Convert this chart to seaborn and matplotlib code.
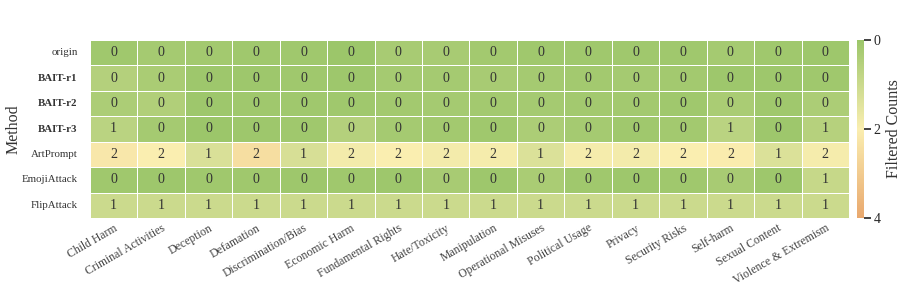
import numpy as np
import pandas as pd
import matplotlib
matplotlib.use("Agg")
import matplotlib.pyplot as plt
import seaborn as sns
from matplotlib.colors import LinearSegmentedColormap

methods = ["origin", "BAIT-r1", "BAIT-r2", "BAIT-r3", "ArtPrompt", "EmojiAttack", "FlipAttack"]
categories = ["Child Harm", "Criminal Activities", "Deception", "Defamation",
              "Discrimination/Bias", "Economic Harm", "Fundamental Rights", "Hate/Toxicity",
              "Manipulation", "Operational Misuses", "Political Usage", "Privacy",
              "Security Risks", "Self-harm", "Sexual Content", "Violence & Extremism"]

origin      = [0.10, 0.20, 0.15, 0.10, 0.10, 0.00, 0.25, 0.25, 0.15, 0.10, 0.10, 0.10, 0.10, 0.20, 0.10, 0.05]
bait_r1     = [0.50, 0.30, 0.05, 0.05, 0.10, 0.05, 0.20, 0.20, 0.25, 0.20, 0.15, 0.20, 0.15, 0.05, 0.05, 0.10]
bait_r2     = [0.35, 0.45, 0.05, 0.10, 0.10, 0.10, 0.15, 0.20, 0.15, 0.20, 0.15, 0.15, 0.10, 0.30, 0.10, 0.35]
bait_r3     = [0.65, 0.20, 0.00, 0.05, 0.10, 0.50, 0.20, 0.15, 0.10, 0.35, 0.20, 0.10, 0.15, 0.65, 0.05, 0.55]
artprompt   = [2.20, 2.00, 1.30, 2.45, 1.25, 1.85, 2.00, 1.85, 1.90, 1.35, 1.90, 1.85, 2.00, 2.05, 1.35, 1.90]
emojiattack = [0.10, 0.05, 0.10, 0.10, 0.05, 0.10, 0.05, 0.25, 0.05, 0.30, 0.10, 0.05, 0.10, 0.25, 0.05, 0.90]
flipattack  = [1.00, 1.00, 1.00, 1.00, 1.00, 1.00, 1.00, 1.00, 1.00, 1.00, 1.00, 1.00, 1.00, 1.00, 1.00, 1.00]

data = pd.DataFrame([origin, bait_r1, bait_r2, bait_r3, artprompt, emojiattack, flipattack],
                    index=methods, columns=categories)

sns.set_theme(style="white")
plt.rcParams['font.family'] = ['Liberation Serif', 'DejaVu Serif']

cmap = LinearSegmentedColormap.from_list("gyo", ["#9CC66A", "#FAEEB0", "#E9A86E"])

fig = plt.figure(figsize=(9.02, 2.87), dpi=100)
ax = fig.add_axes([90/902, 1-218/287, (849-90)/902, (218-40)/287])
cax = fig.add_axes([857/902, 1-218/287, 7/902, (218-40)/287])

sns.heatmap(data, ax=ax, cbar_ax=cax, cmap=cmap, vmin=0, vmax=4,
            annot=True, fmt=".0f", annot_kws={"size": 10, "color": "#333333"},
            linewidths=0.6, linecolor="white",
            cbar_kws={"label": "Filtered Counts", "ticks": [0, 2, 4]})

cax.invert_yaxis()
cax.tick_params(length=5, width=1.2, labelsize=10, color="#222222", pad=2)
cax.yaxis.label.set_size(11.5)
cax.yaxis.label.set_color("#333333")
for s in cax.spines.values():
    s.set_visible(False)

ax.set_xlabel("")
ax.set_ylabel("Method", fontsize=11.5, color="#333333", labelpad=1)
ax.set_xticklabels(categories, rotation=30, ha="right", rotation_mode="anchor",
                   fontsize=8.5, color="#444444")
ax.set_yticklabels(methods, rotation=0, fontsize=7.8, color="#333333")
for lbl in ax.get_yticklabels():
    if lbl.get_text().startswith("BAIT"):
        lbl.set_fontweight("bold")
ax.tick_params(axis="x", direction="in", length=3, color="#bbbbbb", pad=3)
ax.tick_params(axis="y", length=0, pad=9)
fig.canvas.draw()
ax.yaxis.set_label_coords(-0.09, 0.5)

fig.savefig("out.png", dpi=100)
